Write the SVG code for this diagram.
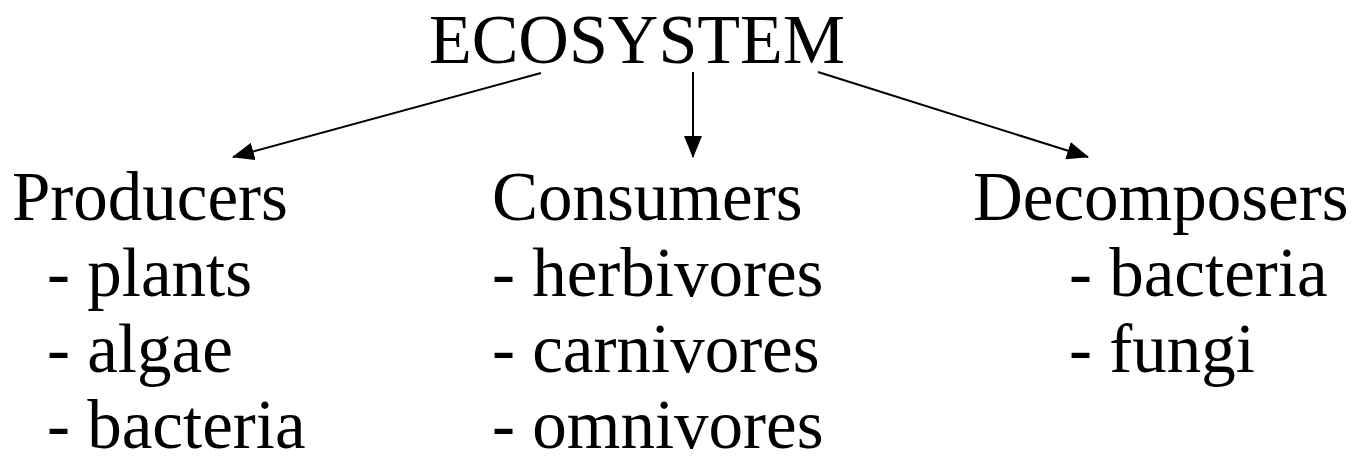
<svg xmlns="http://www.w3.org/2000/svg" width="1365" height="464" viewBox="0 0 1365 464">
<defs>
<style>
text{font-family:"Liberation Serif","Times New Roman",serif;fill:#000;}
.t{font-size:70px;}
.h{font-size:69px;}
.c{stroke:#000;stroke-width:2;fill:none;}
</style>
<marker id="ah" markerUnits="userSpaceOnUse" markerWidth="22" markerHeight="18" refX="21" refY="9" orient="auto">
<path d="M0,0 L22,9 L0,18 z" fill="#000"/>
</marker>
</defs>
<rect width="1365" height="464" fill="#fff"/>
<g id="ecosystem"><text class="t" x="637" y="63" text-anchor="middle">ECOSYSTEM</text></g>
<g id="connectors">
<line class="c" x1="541" y1="73" x2="233" y2="157" marker-end="url(#ah)"/>
<line class="c" x1="693" y1="72" x2="693" y2="157" marker-end="url(#ah)"/>
<line class="c" x1="818" y1="72" x2="1088" y2="157" marker-end="url(#ah)"/>
</g>
<g id="producers">
<text class="h" x="12" y="220">Producers</text>
<text class="h" x="47" y="296">- plants</text>
<text class="h" x="47" y="372">- algae</text>
<text class="h" x="47" y="448">- bacteria</text>
</g>
<g id="consumers">
<text class="h" x="492" y="220">Consumers</text>
<text class="h" x="492" y="296">- herbivores</text>
<text class="h" x="492" y="372">- carnivores</text>
<text class="h" x="492" y="448">- omnivores</text>
</g>
<g id="decomposers">
<text class="h" x="973" y="220">Decomposers</text>
<text class="h" x="1069" y="296">- bacteria</text>
<text class="h" x="1069" y="372">- fungi</text>
</g>
</svg>
